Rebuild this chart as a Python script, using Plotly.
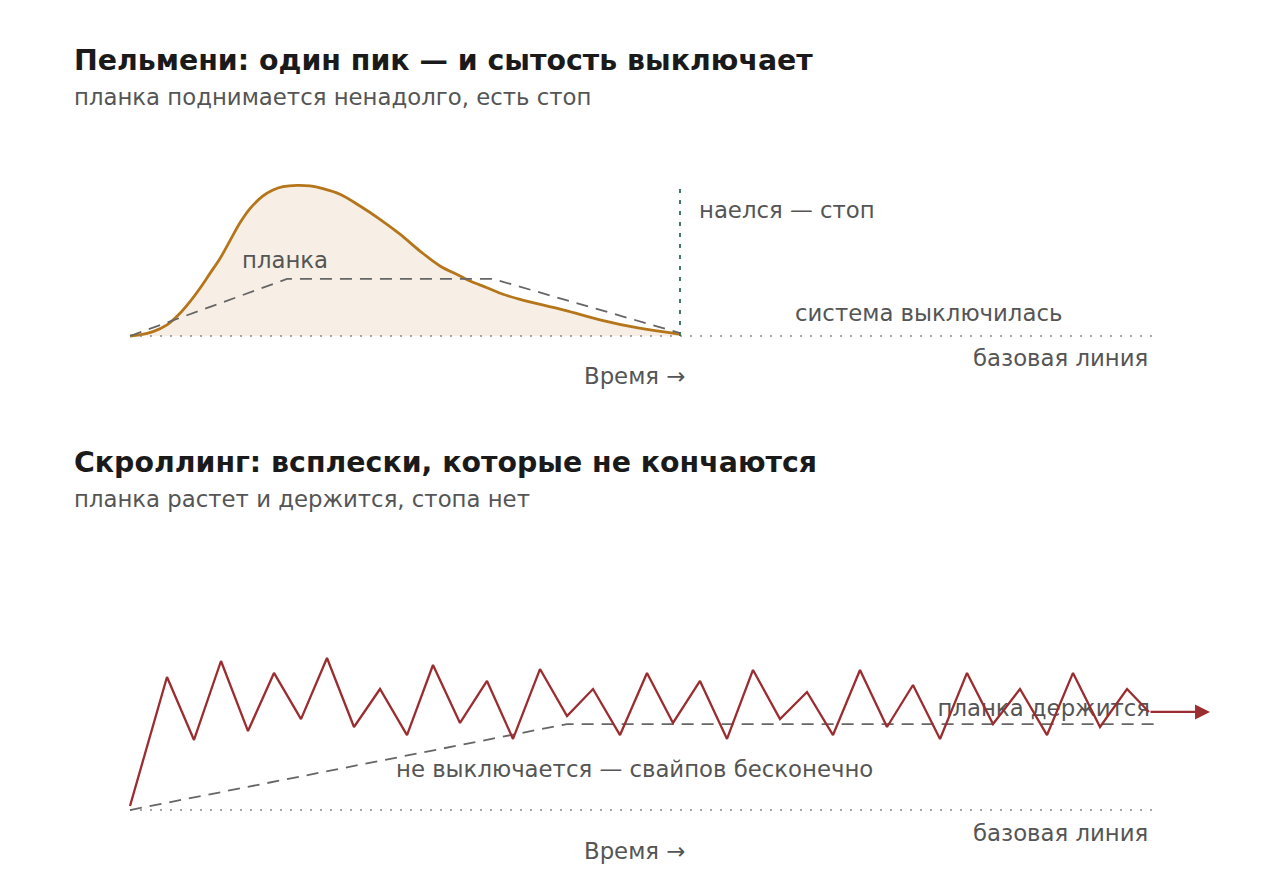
import plotly.graph_objects as go

# Верхний график: пельмени (время и уровень в условных единицах)
curve_t = [0, 1, 2.3, 3.7, 5, 6, 7, 8, 9, 10, 11, 12, 13.3, 14.3, 15.3, 16.7, 18, 19.3, 21, 23,
           25, 27, 29, 31, 33, 34, 35.7, 37.3, 39, 43.4, 47.1, 50.8, 54.9]
curve_v = [0, 0.7, 2.9, 7.4, 15.2, 23, 32, 42, 52, 64, 76, 85.5, 94, 98, 100.2, 101.1, 100.7,
           98.9, 95.1, 87.2, 78.3, 68.3, 57, 47, 40.3, 36.9, 32.4, 28, 24.6, 17.4, 10.7, 5.4, 1.3]
plank1_t = [0, 15.7, 36.3, 55]
plank1_v = [0, 38.3, 38.3, 2]
stop_t = [55, 55]
stop_v = [0, 102]
base_t = [0, 103]
base_v = [0, 0]

# Нижний график: скроллинг
zig_t = [0, 3.7, 6.4, 9.1, 11.8, 14.4, 17.1, 19.7, 22.4, 25, 27.7, 30.3, 33, 35.7, 38.3,
         41, 43.7, 46.3, 49, 51.7, 54.3, 57, 59.7, 62.3, 65, 67.7, 70.3, 73, 75.7, 78.3,
         81, 83.7, 86.3, 89, 91.7, 94.3, 97, 99.7, 101.9]
zig_v = [2.7, 89.3, 47, 100, 53, 92, 61, 102, 55.7, 81.2, 50.3, 97.3, 58.4, 86.6, 47.7,
         94.6, 63.1, 81.2, 50.3, 92, 58.4, 86.6, 47.7, 94, 61, 79.2, 50.3, 94, 55.7, 83.9,
         47.7, 92, 57.7, 81.2, 50.3, 92, 55.7, 81.2, 65.8]
plank2_t = [0, 43.7, 103]
plank2_v = [0, 57.7, 57.7]
arrow_end_t = 108

GOLD = "#b5761b"
RED = "#9b2d30"
GRAY = "#555555"
FONT = "DejaVu Sans"
LBL = 22.8

DOTTED = dict(color="#8a8a8a", width=1.6, dash="2px,8px")
DASHED = dict(color="#666666", width=1.8, dash="12px,8px")

fig = go.Figure()

# верх
fig.add_trace(go.Scatter(x=curve_t, y=curve_v, mode="lines",
                         line=dict(color=GOLD, width=2.8, shape="spline", smoothing=1.0),
                         fill="tozeroy", fillcolor="rgba(196,140,70,0.14)", xaxis="x", yaxis="y"))
fig.add_trace(go.Scatter(x=base_t, y=base_v, mode="lines", line=DOTTED, xaxis="x", yaxis="y"))
fig.add_trace(go.Scatter(x=plank1_t, y=plank1_v, mode="lines", line=DASHED, xaxis="x", yaxis="y"))
fig.add_trace(go.Scatter(x=stop_t, y=stop_v, mode="lines", line=dict(color="#2e6b55", width=1.8, dash="4px,7px"),
                         xaxis="x", yaxis="y"))

# низ
fig.add_trace(go.Scatter(x=base_t, y=base_v, mode="lines", line=DOTTED, xaxis="x2", yaxis="y2"))
fig.add_trace(go.Scatter(x=plank2_t, y=plank2_v, mode="lines", line=DASHED, xaxis="x2", yaxis="y2"))
# подпись под зигзагом, чтобы линия шла поверх текста
fig.add_trace(go.Scatter(x=[102.0], y=[67.1], mode="text", text=["планка держится"],
                         textposition="middle left", textfont=dict(family=FONT, size=LBL, color=GRAY),
                         cliponaxis=False, xaxis="x2", yaxis="y2"))
fig.add_trace(go.Scatter(x=zig_t, y=zig_v, mode="lines", line=dict(color=RED, width=2.3),
                         xaxis="x2", yaxis="y2"))


def label(text, x, y, xref, yref, anchor="left", size=LBL, color=GRAY):
    return dict(text=text, x=x, y=y, xref=xref, yref=yref, xanchor=anchor, yanchor="middle",
                showarrow=False, font=dict(family=FONT, size=size, color=color))


def head(text, y, size, color, bold=False):
    return dict(text=f"<b>{text}</b>" if bold else text, x=64 / 1280, y=y, xref="paper", yref="paper",
                xanchor="left", yanchor="middle", showarrow=False,
                font=dict(family=FONT, size=size, color=color))


annotations = [
    head("Пельмени: один пик — и сытость выключает", 1 - 52 / 881, 28.4, "#1a1a1a", bold=True),
    head("планка поднимается ненадолго, есть стоп", 1 - 89 / 881, LBL, GRAY),
    head("Скроллинг: всплески, которые не кончаются", 1 - 455 / 881, 28.4, "#1a1a1a", bold=True),
    head("планка растет и держится, стопа нет", 1 - 491 / 881, LBL, GRAY),
    label("планка", 11, 51, "x", "y"),
    label("наелся — стоп", 56.7, 84.6, "x", "y"),
    label("система выключилась", 79.8, 15.4, "x", "y", anchor="center"),
    label("базовая линия", 102.0, -14.8, "x", "y", anchor="right"),
    label("Время →", 50.4, -26.8, "x", "y", anchor="center"),
    label("не выключается — свайпов бесконечно", 50.4, 27.5, "x2", "y2", anchor="center"),
    label("базовая линия", 102.0, -15.4, "x2", "y2", anchor="right"),
    label("Время →", 50.4, -27.5, "x2", "y2", anchor="center"),
    # стрелка в конце зигзага
    dict(x=arrow_end_t, y=zig_v[-1], ax=zig_t[-1], ay=zig_v[-1], xref="x2", yref="y2",
         axref="x2", ayref="y2", text="", showarrow=True, arrowhead=2, arrowsize=1.3,
         arrowwidth=2.3, arrowcolor=RED),
]

ax_common = dict(visible=False, showgrid=False, zeroline=False, range=[-12.2, 115.8])
fig.update_layout(
    width=1280, height=881,
    margin=dict(l=0, r=0, t=0, b=0),
    paper_bgcolor="white", plot_bgcolor="white",
    showlegend=False,
    xaxis=dict(**ax_common, anchor="y"),
    xaxis2=dict(**ax_common, anchor="y2"),
    yaxis=dict(visible=False, showgrid=False, zeroline=False, domain=[0.5, 1], range=[-75.5, 220.1]),
    yaxis2=dict(visible=False, showgrid=False, zeroline=False, domain=[0, 0.5], range=[-53.0, 242.6]),
    annotations=annotations,
    font=dict(family=FONT),
)

fig.write_html("out.html")
